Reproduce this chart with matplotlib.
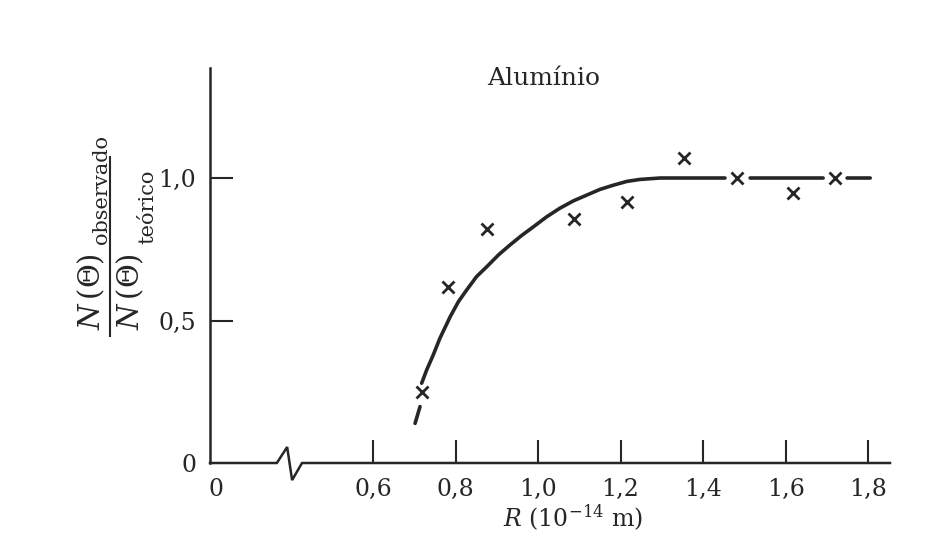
import numpy as np
import matplotlib
matplotlib.use("Agg")
import matplotlib.pyplot as plt
from matplotlib.transforms import ScaledTranslation

plt.rcParams['font.family'] = ['DejaVu Serif']
plt.rcParams['mathtext.fontset'] = 'dejavuserif'

INK = "#262626"

# measured points (R in 1e-14 m, ratio observed / theoretical)
obs_R = [0.718, 0.781, 0.877, 1.086, 1.215, 1.354, 1.482, 1.618, 1.720]
obs_ratio = [0.250, 0.616, 0.820, 0.856, 0.915, 1.070, 1.0, 0.947, 1.0]

# hand-drawn curve (nan = gap around a cross)
curve_R = [0.702, 0.714, np.nan,
           0.718, 0.730, 0.746, 0.762, 0.787, 0.807, 0.827, 0.851, 0.876,
           0.904, 0.932, 0.960, 0.989, 1.021, 1.053, 1.086, 1.118, 1.150,
           1.183, 1.215, 1.247, 1.296, 1.453, np.nan,
           1.514, 1.691, np.nan,
           1.749, 1.805]
curve_ratio = [0.139, 0.198, np.nan,
               0.280, 0.326, 0.379, 0.437, 0.513, 0.566, 0.607, 0.654, 0.689,
               0.730, 0.765, 0.798, 0.829, 0.864, 0.894, 0.920, 0.940, 0.960,
               0.975, 0.988, 0.995, 1.0, 1.0, np.nan,
               1.0, 1.0, np.nan,
               1.0, 1.0]

xtick_vals = [0.6, 0.8, 1.0, 1.2, 1.4, 1.6, 1.8]
xtick_labels = ["0,6", "0,8", "1,0", "1,2", "1,4", "1,6", "1,8"]
ytick_vals = [0, 0.5, 1.0]
ytick_labels = ["0", "0,5", "1,0"]

# axis is broken between 0 and 0.6: origin sits at this position
x0 = 0.205
xmax = 1.853
ymax = 1.386

fig = plt.figure(figsize=(9.27, 5.59), dpi=100)
ax = fig.add_axes([210/927, 1 - 463/559, 680/927, 395/559])

ax.plot(curve_R, curve_ratio, color=INK, lw=2.6, solid_capstyle='round')
ax.plot(obs_R, obs_ratio, ls='none', marker='x', ms=9, mew=2.0, color=INK)

ax.set_xlim(x0, xmax)
ax.set_ylim(0, ymax)

for s in ["top", "right", "bottom"]:
    ax.spines[s].set_visible(False)
ax.spines["left"].set_linewidth(1.8)
ax.spines["left"].set_color(INK)

# bottom axis with the zigzag break
brk_x = [x0, 0.367, 0.392, 0.404, 0.428, xmax]
brk_y = [0, 0, 0.056, -0.060, 0, 0]
ax.plot(brk_x, brk_y, color=INK, lw=1.8, clip_on=False, solid_joinstyle='miter')

ax.set_xticks([x0] + xtick_vals)
ax.set_xticklabels(["0"] + xtick_labels)
ax.set_yticks(ytick_vals)
ax.set_yticklabels(ytick_labels)
ax.tick_params(direction='in', length=16.5, width=1.5, color=INK,
               labelsize=17, labelcolor=INK)
ax.tick_params(axis='x', pad=11)
ax.tick_params(axis='y', pad=10)
t0 = ax.xaxis.get_major_ticks()[0]
t0.tick1line.set_visible(False)
t0.label1.set_transform(t0.label1.get_transform()
                        + ScaledTranslation(4/72, 0, fig.dpi_scale_trans))
ax.yaxis.get_major_ticks()[0].tick1line.set_visible(False)

# title and x label
fig.text(544/927, 1 - 85/559, "Alumínio", ha='center', va='baseline',
         fontsize=18, color=INK)
fig.text(503/927, 1 - 527/559, r"$R$ (10$^{-14}$ m)", ha='left', va='baseline',
         fontsize=17, color=INK)

# y label drawn as a fraction: N(Θ)observado / N(Θ)teórico
rot = dict(rotation=90, rotation_mode='anchor', ha='left', va='baseline', color=INK)
fig.text(100/927, 1 - 330/559, r"$N\,(\Theta)$", fontsize=21, **rot)
fig.text(107/927, 1 - 244/559, "observado", fontsize=15, **rot)
fig.text(139/927, 1 - 330/559, r"$N\,(\Theta)$", fontsize=21, **rot)
fig.text(153/927, 1 - 244/559, "teórico", fontsize=15, **rot)
fig.add_artist(plt.Line2D([110/927, 110/927], [1 - 157/559, 1 - 336/559],
                          color=INK, lw=1.5))

fig.savefig("out.png", dpi=100, facecolor="white")
